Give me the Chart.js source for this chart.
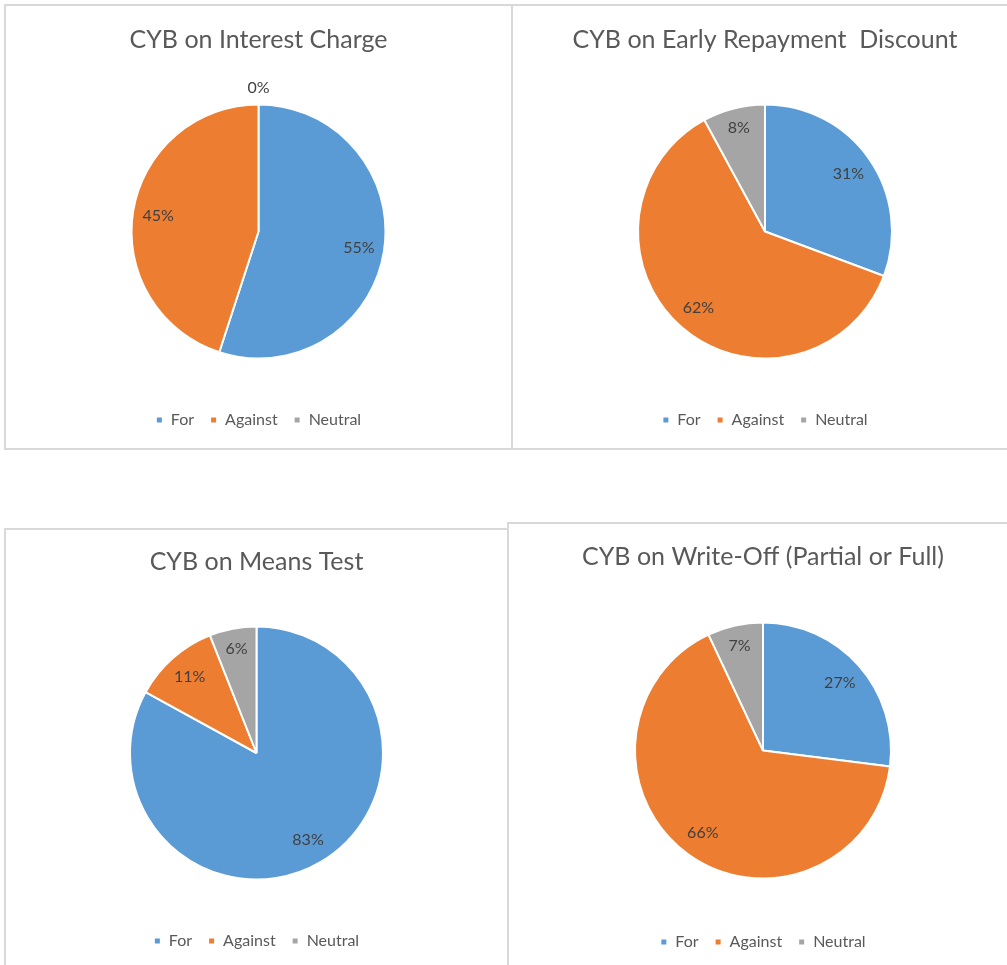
<!DOCTYPE html>
<html>
<head>
<meta charset="utf-8">
<script src="https://cdn.jsdelivr.net/npm/chart.js@4.4.1/dist/chart.umd.min.js"></script>
<style>
  html, body { margin: 0; padding: 0; background: #fff; overflow: hidden; }
  body { width: 1007px; height: 965px; position: relative; }
  .panel { position: absolute; box-sizing: border-box; border: 2px solid #d9d9d9; background: #fff; }
  .panel div { position: relative; width: 100%; height: 100%; }
</style>
</head>
<body>
<div class="panel" style="left:4px;top:4px;width:509px;height:446px;"><div><canvas id="c1"></canvas></div></div>
<div class="panel" style="left:511px;top:4px;width:508px;height:446px;"><div><canvas id="c2"></canvas></div></div>
<div class="panel" style="left:4px;top:528px;width:505px;height:442px;"><div><canvas id="c3"></canvas></div></div>
<div class="panel" style="left:507px;top:522px;width:512px;height:448px;"><div><canvas id="c4"></canvas></div></div>
<script>
// survey answers, percent of respondents
const categories = ["For", "Against", "Neutral"];
const interestCharge = [55, 45, 0];
const earlyRepayment = [31, 62, 8];
const meansTest = [83, 11, 6];
const writeOff = [27, 66, 7];

const chartTitles = [
  "CYB on Interest Charge",
  "CYB on Early Repayment  Discount",
  "CYB on Means Test",
  "CYB on Write-Off (Partial or Full)"
];

const sliceColors = ["#5b9bd5", "#ed7d31", "#a5a5a5"];

Chart.defaults.font.family = "Lato, 'Open Sans', sans-serif";

// percent labels on the slices, zero slices sit just outside the pie
const pieLabels = {
  id: "pieLabels",
  afterDatasetsDraw(chart) {
    const ctx = chart.ctx;
    const meta = chart.getDatasetMeta(0);
    const values = chart.data.datasets[0].data;
    const total = values.reduce((a, b) => a + b, 0);
    ctx.save();
    ctx.font = "16px Lato, 'Open Sans', sans-serif";
    ctx.fillStyle = "#404040";
    ctx.textAlign = "center";
    ctx.textBaseline = "middle";
    meta.data.forEach((arc, i) => {
      const p = arc.getProps(["x", "y", "startAngle", "endAngle", "outerRadius"], true);
      const mid = (p.startAngle + p.endAngle) / 2;
      const share = values[i] / total;
      let r;
      if (values[i] === 0) r = p.outerRadius + 17;
      else if (share < 0.1) r = p.outerRadius * 0.84;
      else r = p.outerRadius * 0.8;
      ctx.fillText(values[i] + "%", p.x + Math.cos(mid) * r, p.y + Math.sin(mid) * r);
    });
    ctx.restore();
  }
};

function makePie(id, title, values, radius, titleTop, titleBottom, padBottom) {
  new Chart(id, {
    type: "pie",
    data: {
      labels: categories,
      datasets: [{
        data: values,
        backgroundColor: sliceColors,
        borderColor: "#ffffff",
        borderWidth: 2,
        radius: radius
      }]
    },
    options: {
      responsive: true,
      maintainAspectRatio: false,
      animation: false,
      layout: { padding: { top: 0, bottom: padBottom, left: 0, right: 0 } },
      plugins: {
        title: {
          display: true,
          text: title,
          color: "#595959",
          font: { size: 25, weight: "normal" },
          padding: { top: titleTop, bottom: titleBottom }
        },
        legend: {
          position: "bottom",
          labels: {
            boxWidth: 7,
            boxHeight: 7,
            padding: 16,
            color: "#595959",
            font: { size: 16 }
          }
        },
        tooltip: { enabled: false }
      }
    },
    plugins: [pieLabels]
  });
}

makePie("c1", chartTitles[0], interestCharge, 127, 19, 12, 10);
makePie("c2", chartTitles[1], earlyRepayment, 127, 19, 12, 10);
makePie("c3", chartTitles[2], meansTest, 126.5, 17, 12, 9);
makePie("c4", chartTitles[3], writeOff, 128, 18, 11, 8);
</script>
</body>
</html>
